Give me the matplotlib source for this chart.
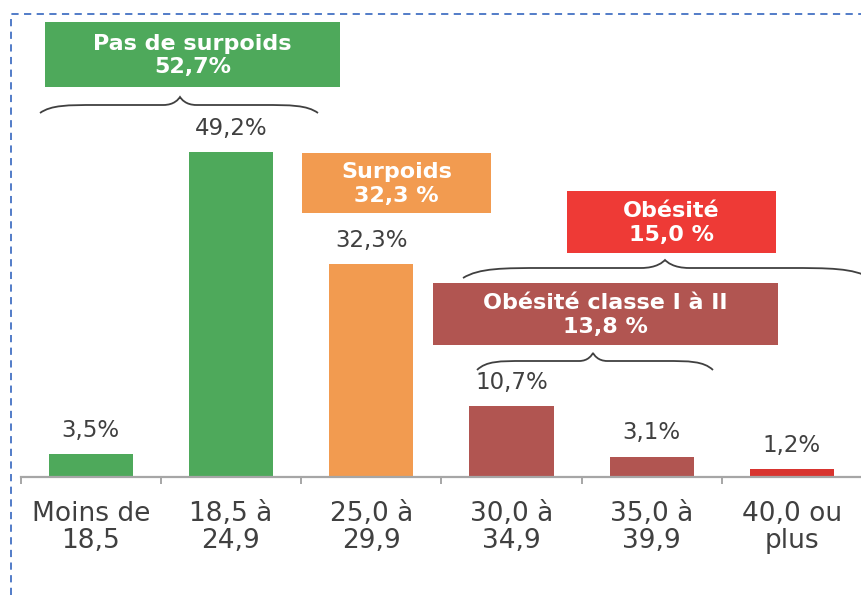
import matplotlib
matplotlib.use("Agg")
import matplotlib.pyplot as plt
from matplotlib.path import Path
from matplotlib.patches import PathPatch, Rectangle

# données
categories = ["Moins de\n18,5", "18,5 à\n24,9", "25,0 à\n29,9",
              "30,0 à\n34,9", "35,0 à\n39,9", "40,0 ou\nplus"]
values = [3.5, 49.2, 32.3, 10.7, 3.1, 1.2]
value_labels = ["3,5%", "49,2%", "32,3%", "10,7%", "3,1%", "1,2%"]
bar_colors = ["#4EA95B", "#4EA95B", "#F29B50", "#B15551", "#B15551", "#D8342F"]

group_labels = ["Pas de surpoids\n52,7%", "Surpoids\n32,3 %", "Obésité\n15,0 %",
                "Obésité classe I à II\n13,8 %"]
group_colors = ["#4EA95B", "#F29B50", "#EE3A36", "#B15551"]

W, H = 862, 595
fig = plt.figure(figsize=(W / 100, H / 100), dpi=100)

# axe principal (px -> données : 142.5 px par catégorie, 6.6 px par %)
ax = fig.add_axes([0, 0, 1, 1])
ax.set_xlim(-0.5 - 21 / 142.5, -0.5 + (W - 21) / 142.5)
ax.set_ylim(-(H - 477) / 6.6, 477 / 6.6)
ax.set_facecolor("none")

x = list(range(len(values)))
ax.bar(x, values, width=0.6, color=bar_colors, zorder=2)
for xi, v, lab in zip(x, values, value_labels):
    ax.text(xi, v + 2.6, lab, ha="center", va="baseline", fontsize=16.5,
            color="#404040", family="DejaVu Sans")

for s in ["left", "top", "right"]:
    ax.spines[s].set_visible(False)
ax.spines["bottom"].set_position(("data", 0))
ax.spines["bottom"].set_color("#A6A6A6")
ax.spines["bottom"].set_linewidth(1.6)
ax.spines["bottom"].set_bounds(-0.5, 5.5)
ax.set_yticks([])
ax.set_xticks(x)
ax.set_xticklabels(categories, fontsize=19, color="#404040", family="DejaVu Sans",
                   linespacing=1.05)
ax.tick_params(axis="x", which="major", length=0, pad=17)
ax.set_xticks([i - 0.5 for i in range(len(values) + 1)], minor=True)
ax.tick_params(axis="x", which="minor", length=5, width=1.4, color="#A6A6A6",
               direction="out")

# calque d'annotations en pixels
ov = fig.add_axes([0, 0, 1, 1])
ov.set_xlim(0, W)
ov.set_ylim(H, 0)
ov.axis("off")
ov.patch.set_alpha(0)

# cadre pointillé
ov.plot([11, 11, W], [H, 14, 14], color="#4472C4", lw=1.3,
        linestyle=(0, (4, 3)), clip_on=False)

# encadrés
boxes = [(45, 22, 340, 87), (302, 153, 491, 213), (567, 191, 776, 253), (433, 283, 778, 345)]
for (x0, y0, x1, y1), lab, col in zip(boxes, group_labels, group_colors):
    ov.add_patch(Rectangle((x0, y0), x1 - x0, y1 - y0, facecolor=col, edgecolor="none"))
    ov.text((x0 + x1) / 2, (y0 + y1) / 2 + 1, lab, ha="center", va="center",
            fontsize=16, fontweight="bold", color="white", family="DejaVu Sans",
            linespacing=1.25)


def brace(x0, x1, xt, ye, ym, yt):
    wl = xt - x0
    wr = x1 - xt
    verts = [
        (x0, ye),
        (x0 + 0.08 * wl, ym), (x0 + 0.2 * wl, ym), (x0 + 0.4 * wl, ym),
        (xt - 0.12 * wl, ym),
        (xt - 0.04 * wl, ym), (xt - 0.01 * wl, yt + 2), (xt, yt),
        (xt + 0.01 * wr, yt + 2), (xt + 0.04 * wr, ym), (xt + 0.12 * wr, ym),
        (x1 - 0.4 * wr, ym),
        (x1 - 0.2 * wr, ym), (x1 - 0.08 * wr, ym), (x1, ye),
    ]
    codes = [Path.MOVETO,
             Path.CURVE4, Path.CURVE4, Path.CURVE4,
             Path.LINETO,
             Path.CURVE4, Path.CURVE4, Path.CURVE4,
             Path.CURVE4, Path.CURVE4, Path.CURVE4,
             Path.LINETO,
             Path.CURVE4, Path.CURVE4, Path.CURVE4]
    ov.add_patch(PathPatch(Path(verts, codes), facecolor="none", edgecolor="#404040",
                           lw=1.3, clip_on=False))


brace(40, 318, 180, 113, 105, 97)
brace(463, 870, 665, 278, 268, 260)
brace(477, 713, 593, 370, 361, 353)

fig.savefig("out.png", dpi=100, facecolor="white")
